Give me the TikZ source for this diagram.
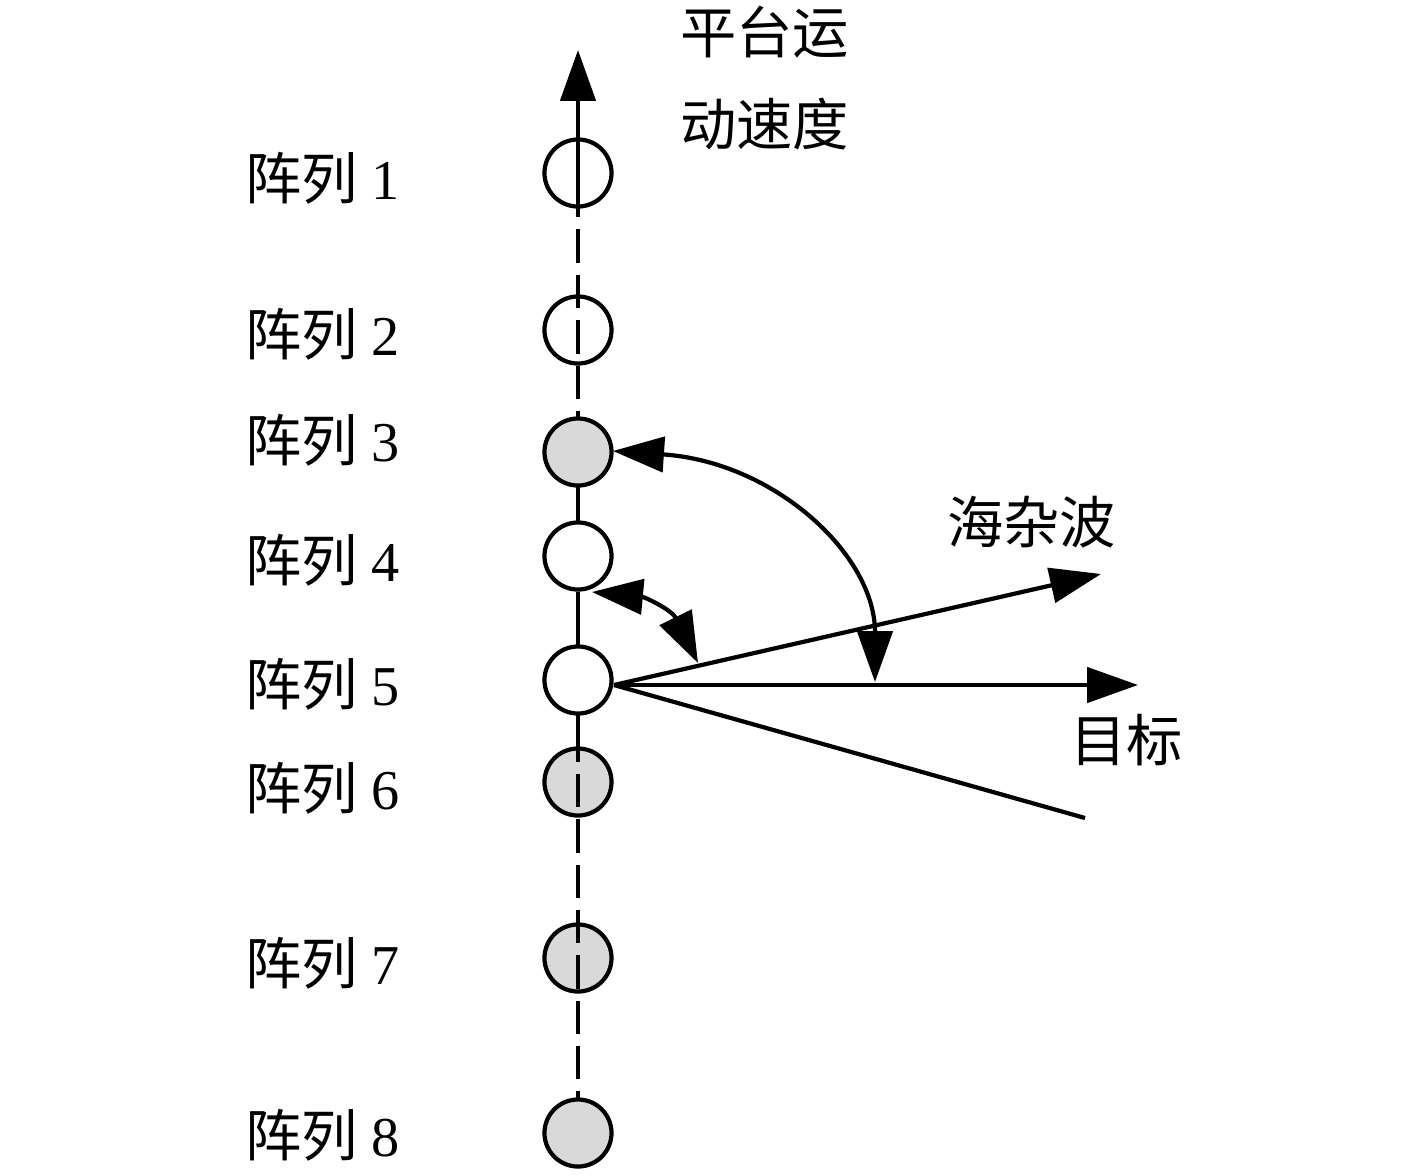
\documentclass[tikz,border=0pt]{standalone}
\usepackage{fontspec}
\setmainfont{Liberation Serif}
\newfontfamily\cjk{Noto Sans CJK SC}
\usetikzlibrary{arrows.meta}
\begin{document}
\begin{tikzpicture}[x=0.01cm,y=-0.01cm,line width=1.2pt,
  elem/.style={circle,draw,minimum size=0.67cm,inner sep=0pt},
  light/.style={elem,fill=white},
  grey/.style={elem,fill=black!15},
  tipa/.style={-{Triangle[length=14.5pt,width=10pt]}},
  tipb/.style={{Triangle[length=14.5pt,width=10pt]}-{Triangle[length=14.5pt,width=10pt]}},
  lbl/.style={inner sep=0pt,anchor=west,font=\fontsize{16pt}{19pt}\selectfont}]
\useasboundingbox (0,0) rectangle (1417,1175);
% circles behind the axis line
\node[light] (c1) at (578,173) {};
\node[light] (c2) at (578,330) {};
\node[grey] (c6) at (578,782) {};
\node[grey] (c7) at (578,958) {};
% axis
\coordinate (top) at (578,50);
\coordinate (a1) at (578,196);
\draw[tipa] (a1) -- (top);
\draw[dash pattern=on 9.5pt off 3.4pt,dash phase=3.4pt] (a1) -- (578,1098) coordinate (a8);
% circles in front of the axis line
\node[grey] (c3) at (578,452) {};
\node[light] (c4) at (578,556) {};
\node[light] (c5) at (578,680) {};
\node[grey] (c8) at (578,1133) {};
\draw (c3.south) -- (c4.north);
\draw (c4.south) -- (c5.north);
\draw (c5.south) -- (c6.north);
% rays
\coordinate (o) at (614,685);
\coordinate (tgt) at (1138,685);
\coordinate (sea) at (1101,574);
\coordinate (low) at (1085,818);
\draw[tipa] (o) -- (tgt);
\draw[tipa] (o) -- (sea);
\draw (o) -- (low);
% angle arcs
\coordinate (b1) at (613,451);
\coordinate (b2) at (875,682);
\draw[tipb] (b1) .. controls (775,462) and (875,555) .. (b2);
\coordinate (s1) at (592,592);
\coordinate (s2) at (698,663);
\draw[tipb] (s1) .. controls (645,597) and (672,610) .. (s2);
% labels
\node[lbl] (l1) at (243,178) {{\cjk 阵列} 1};
\node[lbl] (l2) at (243,334) {{\cjk 阵列} 2};
\node[lbl] (l3) at (243,440) {{\cjk 阵列} 3};
\node[lbl] (l4) at (243,560) {{\cjk 阵列} 4};
\node[lbl] (l5) at (243,684) {{\cjk 阵列} 5};
\node[lbl] (l6) at (243,788) {{\cjk 阵列} 6};
\node[lbl] (l7) at (243,963) {{\cjk 阵列} 7};
\node[lbl] (l8) at (243,1135) {{\cjk 阵列} 8};
\node[lbl] (v1) at (678,32) {\cjk 平台运};
\node[lbl] (v2) at (678,124) {\cjk 动速度};
\node[lbl] (sc) at (945,522) {\cjk 海杂波};
\node[lbl] (tg) at (1068,740) {\cjk 目标};
\end{tikzpicture}
\end{document}
